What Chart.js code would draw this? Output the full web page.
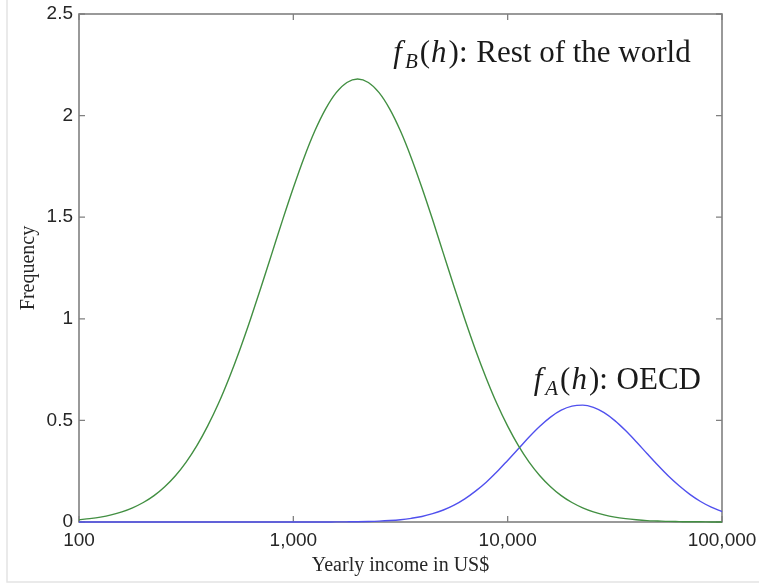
<!DOCTYPE html>
<html>
<head>
<meta charset="utf-8">
<script src="https://cdn.jsdelivr.net/npm/chart.js@4/dist/chart.umd.min.js"></script>
<style>
html,body{margin:0;padding:0;background:#fff;}
#wrap{width:759px;height:586px;position:relative;}
</style>
</head>
<body>
<div id="wrap"><canvas id="c"></canvas></div>
<script>
// Yearly income (US$), log-spaced sample points
const incomes = [100, 112.2, 125.9, 141.3, 158.5, 177.8, 199.5, 223.9, 251.2, 281.8,
  316.2, 354.8, 398.1, 446.7, 501.2, 562.3, 631, 707.9, 794.3, 891.3,
  1000, 1122, 1259, 1413, 1585, 1778, 1995, 2239, 2512, 2818,
  3162, 3548, 3981, 4467, 5012, 5623, 6310, 7079, 7943, 8913,
  10000, 11220, 12590, 14130, 15850, 17780, 19950, 22390, 25120, 28180,
  31620, 35480, 39810, 44670, 50120, 56230, 63100, 70790, 79430, 89130, 100000];

// f_B(h): Rest of the world
const restOfWorld = [0.011, 0.0165, 0.024, 0.035, 0.050, 0.070, 0.096, 0.130, 0.174, 0.228,
  0.295, 0.376, 0.472, 0.582, 0.708, 0.847, 0.998, 1.158, 1.322, 1.487,
  1.645, 1.793, 1.924, 2.032, 2.113, 2.163, 2.180, 2.163, 2.113, 2.032,
  1.924, 1.793, 1.645, 1.487, 1.322, 1.158, 0.998, 0.847, 0.708, 0.582,
  0.472, 0.376, 0.295, 0.228, 0.174, 0.130, 0.096, 0.070, 0.050, 0.035,
  0.024, 0.0165, 0.011, 0.007, 0.005, 0.003, 0.002, 0.001, 0.001, 0, 0];

// f_A(h): OECD
const oecd = [0, 0, 0, 0, 0, 0, 0, 0, 0, 0,
  0, 0, 0, 0, 0, 0, 0, 0, 0, 0,
  0, 0, 0, 0.0002, 0.0004, 0.0008, 0.0014, 0.0025, 0.0042, 0.0071,
  0.0114, 0.018, 0.027, 0.041, 0.059, 0.083, 0.114, 0.152, 0.196, 0.247,
  0.303, 0.360, 0.418, 0.471, 0.516, 0.550, 0.570, 0.575, 0.564, 0.538,
  0.499, 0.450, 0.395, 0.337, 0.280, 0.226, 0.178, 0.136, 0.101, 0.073, 0.051];

const xTicks = [100, 1000, 10000, 100000];
const xTickLabels = ['100', '1,000', '10,000', '100,000'];
const yTicks = [0, 0.5, 1, 1.5, 2, 2.5];
const yTickLabels = ['0', '0.5', '1', '1.5', '2', '2.5'];

const TXT = '#262626';

const framePlugin = {
  id: 'frame',
  beforeDatasetsDraw(chart) {
    const {ctx, chartArea: a, scales} = chart;
    ctx.save();
    // outer faint image border
    ctx.strokeStyle = '#e4e4e4';
    ctx.lineWidth = 1.5;
    ctx.beginPath();
    ctx.moveTo(7, 0); ctx.lineTo(7, 582); ctx.lineTo(759, 582);
    ctx.stroke();
    // axes box
    ctx.strokeStyle = '#808080';
    ctx.lineWidth = 1.6;
    ctx.strokeRect(a.left, a.top, a.right - a.left, a.bottom - a.top);
    ctx.lineWidth = 1.3;
    ctx.beginPath();
    yTicks.forEach(v => {
      const y = scales.y.getPixelForValue(v);
      ctx.moveTo(a.left, y); ctx.lineTo(a.left + 6, y);
      ctx.moveTo(a.right, y); ctx.lineTo(a.right - 6, y);
    });
    xTicks.forEach(v => {
      const x = scales.x.getPixelForValue(v);
      ctx.moveTo(x, a.bottom); ctx.lineTo(x, a.bottom - 6);
      ctx.moveTo(x, a.top); ctx.lineTo(x, a.top + 6);
    });
    ctx.stroke();
    ctx.restore();
  },
  afterDraw(chart) {
    const {ctx, scales} = chart;
    const drawMath = (parts, x, y) => {
      ctx.save();
      ctx.fillStyle = '#1a1a1a';
      ctx.textBaseline = 'alphabetic';
      ctx.textAlign = 'left';
      let cx = x;
      parts.forEach(p => {
        ctx.font = p.font;
        ctx.fillText(p.t, cx, y + (p.dy || 0));
        cx += ctx.measureText(p.t).width + (p.gap || 0);
      });
      ctx.restore();
    };
    const R = '31px "Liberation Serif", serif';
    const I = 'italic 31px "Liberation Serif", serif';
    const S = 'italic 21px "Liberation Serif", serif';
    // positions anchored to the scales
    const xb = scales.x.getPixelForValue(1000) + 100;
    const yb = scales.y.getPixelForValue(2.5) + 48;
    drawMath([
      {t: 'f', font: I, gap: 3},
      {t: 'B', font: S, dy: 6, gap: 2},
      {t: '(', font: R, gap: 1},
      {t: 'h', font: I, gap: 2},
      {t: '):', font: R, gap: 1},
      {t: ' Rest of the world', font: R}
    ], xb, yb);
    const xa = scales.x.getPixelForValue(10000) + 26;
    const ya = scales.y.getPixelForValue(0.5) - 31;
    drawMath([
      {t: 'f', font: I, gap: 3},
      {t: 'A', font: S, dy: 6, gap: 2},
      {t: '(', font: R, gap: 1},
      {t: 'h', font: I, gap: 2},
      {t: '):', font: R, gap: 1},
      {t: ' OECD', font: R}
    ], xa, ya);
  }
};

new Chart(document.getElementById('c'), {
  type: 'line',
  data: {
    datasets: [
      {
        label: 'f_B(h): Rest of the world',
        data: incomes.map((x, i) => ({x, y: restOfWorld[i]})),
        borderColor: '#428f42',
        borderWidth: 1.4,
        pointRadius: 0,
        fill: false,
        cubicInterpolationMode: 'monotone',
        clip: 4
      },
      {
        label: 'f_A(h): OECD',
        data: incomes.map((x, i) => ({x, y: oecd[i]})),
        borderColor: '#5050ee',
        borderWidth: 1.4,
        pointRadius: 0,
        fill: false,
        cubicInterpolationMode: 'monotone',
        clip: 4
      }
    ]
  },
  options: {
    responsive: true,
    maintainAspectRatio: false,
    animation: false,
    layout: {padding: {top: 14, right: 37, left: 0, bottom: 0}},
    plugins: {legend: {display: false}, tooltip: {enabled: false}},
    scales: {
      x: {
        type: 'logarithmic',
        min: 100,
        max: 100000,
        grid: {display: false, drawTicks: false},
        border: {display: false},
        afterBuildTicks: s => { s.ticks = xTicks.map(v => ({value: v})); },
        afterFit: s => { s.height = 64; s.paddingLeft = 0; s.paddingRight = 0; },
        ticks: {
          autoSkip: false,
          maxRotation: 0,
          padding: 7,
          color: TXT,
          font: {family: '"Liberation Sans", Arial, sans-serif', size: 19},
          callback: (v) => xTickLabels[xTicks.indexOf(v)]
        },
        title: {
          display: true,
          text: 'Yearly income in US$',
          color: TXT,
          font: {family: '"Liberation Serif", serif', size: 20},
          padding: {top: 0, bottom: 8}
        }
      },
      y: {
        min: 0,
        max: 2.5,
        grid: {display: false, drawTicks: false},
        border: {display: false},
        afterBuildTicks: s => { s.ticks = yTicks.map(v => ({value: v})); },
        afterFit: s => { s.width = 79; s.paddingTop = 0; s.paddingBottom = 0; },
        ticks: {
          padding: 6,
          color: TXT,
          font: {family: '"Liberation Sans", Arial, sans-serif', size: 19},
          callback: (v) => yTickLabels[yTicks.indexOf(v)]
        },
        title: {
          display: true,
          text: 'Frequency',
          color: TXT,
          font: {family: '"Liberation Serif", serif', size: 20},
          padding: {top: 17, bottom: 0}
        }
      }
    }
  },
  plugins: [framePlugin]
});
</script>
</body>
</html>
